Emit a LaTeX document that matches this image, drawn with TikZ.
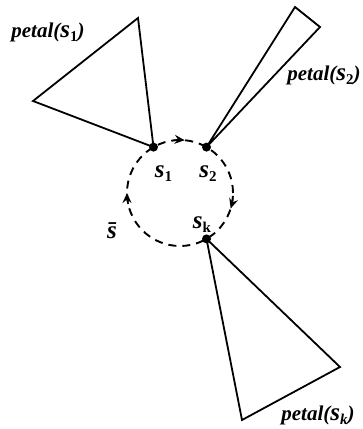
\documentclass[tikz,border=0pt]{standalone}
\usepackage{fontspec}
\setmainfont{Liberation Serif}
\usetikzlibrary{arrows.meta}

\newcommand{\ese}{{\fontsize{25}{25}\selectfont s}}
\newcommand{\esebar}{{\fontsize{25}{25}\selectfont\=s}}
\newcommand{\bajo}[1]{\raisebox{-0.45ex}{\fontsize{15}{15}\selectfont #1}}

\begin{document}
\begin{tikzpicture}[x=1pt,y=1pt,
   punto/.style={circle,fill=black,inner sep=0pt,minimum size=9pt},
   petalo/.style={draw,line width=1.8pt,line join=miter},
   ciclo/.style={draw,line width=1.9pt,dash pattern=on 8pt off 6pt},
   punta/.style={draw,line width=1.6pt,-{Stealth[length=10pt,width=9pt,inset=3.5pt]}},
   nombre/.style={anchor=base,inner sep=0pt,font=\fontsize{21}{21}\selectfont\bfseries\itshape},
   vertice/.style={anchor=base,inner sep=0pt,font=\fontsize{21}{21}\selectfont\bfseries\itshape}]

  \useasboundingbox (0,0) rectangle (363,-429);

  % ciclo de puntos s
  \coordinate (c) at (180,-193);
  \draw[ciclo] (c) circle[radius=53];
  \draw[punta] (c) ++(97:53) arc[start angle=97,end angle=85,radius=53];
  \draw[punta] (c) ++(-5:53) arc[start angle=-5,end angle=-17,radius=53];
  \draw[punta] (c) ++(192:53) arc[start angle=192,end angle=180,radius=53];

  \node[punto] (s1) at (153.5,-147.1) {};
  \node[punto] (s2) at (206.5,-147.1) {};
  \node[punto] (sk) at (206.5,-238.9) {};

  % petalos
  \coordinate (a1) at (138,-18);
  \coordinate (b1) at (33,-101);
  \draw[petalo] (s1.center) -- (a1) -- (b1) -- cycle;
  \coordinate (a2) at (295,-7);
  \coordinate (b2) at (320,-27);
  \draw[petalo] (s2.center) -- (a2) -- (b2) -- cycle;
  \coordinate (ak) at (340,-367);
  \coordinate (bk) at (242,-420);
  \draw[petalo] (sk.center) -- (ak) -- (bk) -- cycle;

  % etiquetas
  \node[nombre] (n1) at (48,-37) {petal(\ese\bajo{\upshape 1})};
  \node[nombre] (n2) at (324,-80) {petal(\ese\bajo{\upshape 2})};
  \node[nombre] (nk) at (318,-420) {petal(\ese\bajo{k})};
  \node[vertice] (l1) at (163.5,-177) {\ese\bajo{\upshape 1}};
  \node[vertice] (l2) at (208,-177) {\ese\bajo{\upshape 2}};
  \node[vertice] (lk) at (202,-228) {\ese\bajo{\upshape k}};
  \node[vertice] (lb) at (112,-238) {\esebar};
\end{tikzpicture}
\end{document}
